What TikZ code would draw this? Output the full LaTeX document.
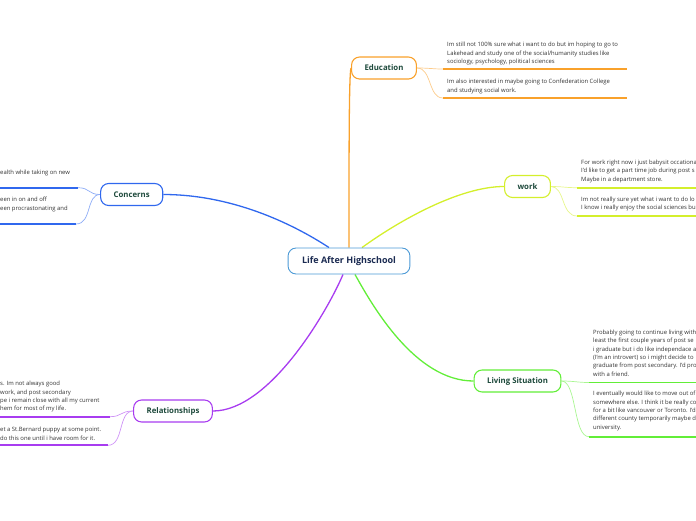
\documentclass[tikz,border=0pt]{standalone}
\usepackage{fontspec}
\setmainfont{Open Sans}
\usetikzlibrary{positioning,backgrounds}

\definecolor{centreblue}{HTML}{4C9AD6}
\definecolor{centretext}{HTML}{1B2B52}
\definecolor{eduorange}{HTML}{F9A12B}
\definecolor{workgreen}{HTML}{D4EF2C}
\definecolor{livgreen}{HTML}{62EE38}
\definecolor{conblue}{HTML}{3068EE}
\definecolor{relpurple}{HTML}{A83CF0}
\definecolor{nodetext}{HTML}{1E4A3C}
\definecolor{notetext}{HTML}{333333}

\begin{document}
\begin{tikzpicture}[x=1pt,y=-1pt,
  topicbox/.style={draw=#1,line width=1.1pt,rounded corners=8pt,fill=white,
    inner xsep=13pt,minimum height=22pt,text=nodetext,
    font=\fontsize{7.8}{9}\selectfont\bfseries},
  notebox/.style={anchor=north west,inner sep=0pt,align=left,text=notetext,
    font=\fontsize{5.9}{8.3}\selectfont},
  branchline/.style={draw=#1,line width=1.3pt},
  twigline/.style={draw=#1!55,line width=0.7pt},
  ruleline/.style={draw=#1,line width=1.8pt}]
\useasboundingbox (0,0) rectangle (696,520);

% topics
\node[topicbox=centreblue,inner xsep=14pt,minimum height=26pt,line width=0.9pt,
  text=centretext,font=\fontsize{9}{11}\selectfont\bfseries] (life) at (349,261) {Life After Highschool};
\node[topicbox=eduorange] (edu) at (384,68) {Education};
\node[topicbox=workgreen] (work) at (527.5,186.5) {work};
\node[topicbox=livgreen] (liv) at (517.5,381) {Living Situation};
\node[topicbox=conblue] (con) at (131.7,194.5) {Concerns};
\node[topicbox=relpurple] (rel) at (173,411) {Relationships};

% note rule starts
\coordinate (eduA) at (443,69);   \coordinate (eduB) at (443,98);
\coordinate (workA) at (577,187.7); \coordinate (workB) at (577,216);
\coordinate (livA) at (589,382.5); \coordinate (livB) at (589,436.7);
\coordinate (conA) at (78,187.7);  \coordinate (conB) at (76,224);
\coordinate (relA) at (110,416.7); \coordinate (relB) at (108,445.3);

% notes
\node[notebox] (eduNoteA) at (447,42.2) {Im still not 100\% sure what i want to do but im hoping to go to\\Lakehead and study one of the social/humanity studies like\\sociology, psychology, political sciences};
\node[notebox] (eduNoteB) at (447,79.2) {Im also interested in maybe going to Confederation College\\and studying social work.};
\node[notebox] (workNoteA) at (581,159.9) {For work right now i just babysit occationa\\I'd like to get a part time job during post s\\Maybe in a department store.};
\node[notebox] (workNoteB) at (581,196.5) {Im not really sure yet what i want to do lo\\I know i really enjoy the social sciences bu};
\node[notebox] (livNoteA) at (593,329.9) {Probably going to continue living with\\least the first couple years of post se\\i graduate but i do like independace a\\(I'm an introvert) so i might decide to\\graduate from post secondary. I'd pro\\with a friend.};
\node[notebox] (livNoteB) at (593,391.2) {I eventually would like to move out of\\somewhere else. I think it be really co\\for a bit like vancouver or Toronto. I'd\\different county temporarily maybe d\\university.};
\node[notebox] (conNoteA) at (0,169.5) {ealth while taking on new};
\node[notebox] (conNoteB) at (0,197.2) {een in on and off\\een procrastonating and};
\node[notebox] (relNoteA) at (0,381.2) {s. Im not always good\\work, and post secondary\\pe i remain close with all my current\\hem for most of my life.};
\node[notebox] (relNoteB) at (0,427.2) {et a St.Bernard puppy at some point.\\do this one until i have room for it.};

% note rules
\draw[ruleline=eduorange] (eduA) -- ++(184,0);
\draw[ruleline=eduorange] (eduB) -- ++(184,0);
\draw[ruleline=workgreen] (workA) -- ++(130,0);
\draw[ruleline=workgreen] (workB) -- ++(130,0);
\draw[ruleline=livgreen] (livA) -- ++(120,0);
\draw[ruleline=livgreen] (livB) -- ++(120,0);
\draw[ruleline=conblue] (conA) -- ++(-90,0);
\draw[ruleline=conblue] (conB) -- ++(-90,0);
\draw[ruleline=relpurple] (relA) -- ++(-120,0);
\draw[ruleline=relpurple] (relB) -- ++(-120,0);

\begin{scope}[on background layer]
% branches
\draw[branchline=conblue] ([xshift=-20pt]life.north) .. controls (290,222) and (230,194.5) .. (con.east);
\draw[branchline=eduorange] (life.north) .. controls (349,150) and (349,75) .. (edu.west);
\draw[branchline=workgreen] ([xshift=13pt]life.north) .. controls (400,220) and (460,186.5) .. (work.west);
\draw[branchline=livgreen] ([xshift=6pt]life.south) .. controls (372,305) and (415,381) .. (liv.west);
\draw[branchline=relpurple] ([xshift=-6pt]life.south) .. controls (328,310) and (270,411) .. (rel.east);
% twigs
\draw[twigline=eduorange] (edu.east) .. controls (430,68) and (432,69) .. (eduA);
\draw[twigline=eduorange] (edu.east) .. controls (432,68) and (428,98) .. (eduB);
\draw[twigline=workgreen] (work.east) .. controls (563,186.5) and (565,187.7) .. (workA);
\draw[twigline=workgreen] (work.east) .. controls (565,186.5) and (561,216) .. (workB);
\draw[twigline=livgreen] (liv.east) .. controls (575,381) and (577,382.5) .. (livA);
\draw[twigline=livgreen] (liv.east) .. controls (577,381) and (573,436.7) .. (livB);
\draw[twigline=conblue] (con.west) .. controls (88,194.5) and (90,187.7) .. (conA);
\draw[twigline=conblue] (con.west) .. controls (86,194.5) and (92,224) .. (conB);
\draw[twigline=relpurple] (rel.west) .. controls (120,411) and (122,416.7) .. (relA);
\draw[twigline=relpurple] (rel.west) .. controls (118,411) and (124,445.3) .. (relB);
\end{scope}
\end{tikzpicture}
\end{document}
